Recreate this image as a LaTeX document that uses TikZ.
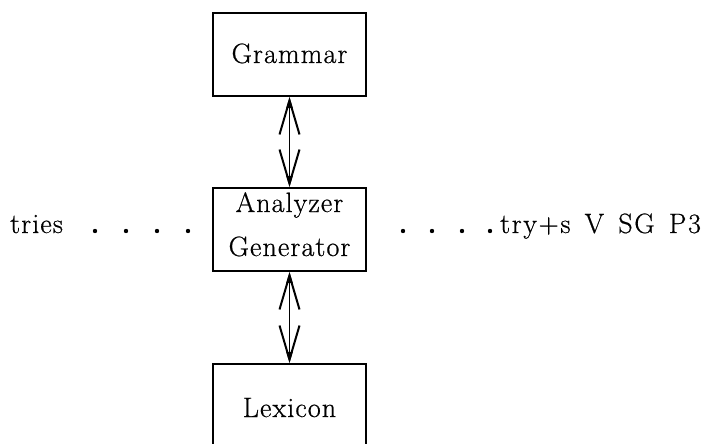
\documentclass[tikz,border=0pt]{standalone}
\usepackage{fontspec}
\setmainfont{Latin Modern Roman}[LetterSpace=4,FakeBold=0.6]
\newfontfamily\widefont{Latin Modern Roman}[LetterSpace=6,WordSpace=1.4,FakeBold=0.6]
\usetikzlibrary{arrows.meta}
\begin{document}
\begin{tikzpicture}[x=1pt,y=-1pt,
  box/.style={draw,line width=1.9pt,minimum width=153pt,inner sep=0pt},
  lbl/.style={font=\fontsize{28}{32}\selectfont,anchor=base,inner sep=0pt},
  barb/.tip={Straight Barb[length=34pt,width=20pt,line width=2pt,sep=-11pt] Triangle[length=11pt,width=6pt]},
  link/.style={line width=1.8pt,barb-barb},
  dot/.style={circle,fill,inner sep=0pt,minimum size=4.4pt}]
\useasboundingbox (0,0) rectangle (710,444);
\begin{scope}
\clip (0,0) rectangle (710,444);
% the three boxes
\node[box,minimum height=83pt] (gram) at (289.5,54.5) {};
\node[box,minimum height=83pt] (ana) at (289.5,229.5) {};
\node[box,minimum height=100pt] (lex) at (289.5,414) {};
\end{scope}
% box labels
\node[lbl] (gramT) at (289.5,63) {Grammar};
\node[lbl] (anaT1) at (289.5,212) {Analyzer};
\node[lbl] (anaT2) at (289.5,256) {Generator};
\node[lbl] (lexT) at (289.5,417) {Lexicon};
% two-way links
\draw[link] (gram.south) -- (ana.north);
\draw[link] (ana.south) -- (lex.north);
% input and output words
\node[lbl,anchor=base west] (inw) at (10,233) {tries};
\node[lbl,anchor=base west,font=\fontsize{28}{32}\widefont] (outw) at (500,233) {try+s V SG P3};
\foreach \x [count=\i] in {95,126,157,188}
  \node[dot] (dl\i) at (\x,231) {};
\foreach \x [count=\i] in {403,432,462,490}
  \node[dot] (dr\i) at (\x,231) {};
\end{tikzpicture}
\end{document}
